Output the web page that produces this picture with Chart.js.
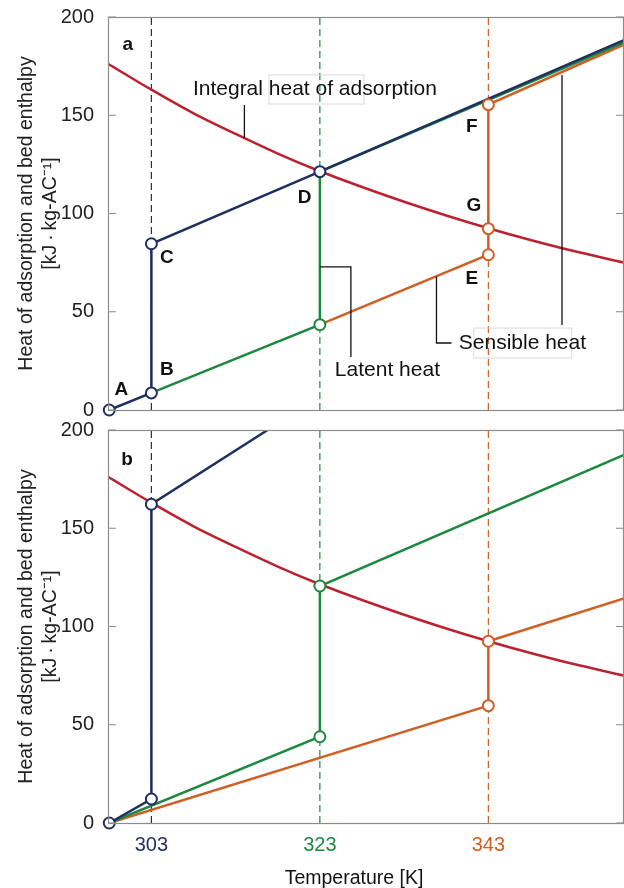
<!DOCTYPE html>
<html lang="en">
<head>
<meta charset="UTF-8">
<title>Heat of adsorption and bed enthalpy</title>
<style>
    body {
        margin: 0;
        background: #fff;
        font-family: Arial, "Liberation Sans", sans-serif;
        overflow: hidden;
    }
    .panel {
        position: absolute;
        left: 0;
        width: 624px;
    }
    /* canvases overlap a little so the chart areas land where the original ones are */
    #panelA { top: -7px; height: 441px; }
    #panelB { top: 406px; height: 482px; }
</style>
<script src="https://cdn.jsdelivr.net/npm/chart.js"></script>
</head>
<body>
<div class="panel" id="panelA"><canvas id="chartA"></canvas></div>
<div class="panel" id="panelB"><canvas id="chartB"></canvas></div>

<script>
// ---- data (temperature in K, heat in kJ/kg-AC) ----
const tempTicks = [303, 323, 343];
const yTicks = [0, 50, 100, 150, 200];
const tMin = 297.85, tMax = 359.1;

// integral heat of adsorption, same curve in both panels
const integralT = [297.85, 303, 308, 313, 318, 323, 328, 333, 338, 343, 348, 353, 359.1];
const integralQ = [176.2, 163, 151, 140.5, 130.5, 121.5, 113.5, 106, 99, 92.5, 86.5, 81, 75];

// panel a
const aNavyT = [298, 303, 303, 323, 359.1];
const aNavyQ = [0, 8.7, 84.6, 121.3, 188.2];
const aGreenT = [303, 323, 323, 359.1];
const aGreenQ = [8.7, 43.4, 121.3, 187.1];
const aOrangeT = [323, 343, 343, 359.1];
const aOrangeQ = [43.4, 79, 155.4, 186.0];
const aNavyPtT = [298, 303, 303, 323];
const aNavyPtQ = [0, 8.7, 84.6, 121.3];
const aGreenPtT = [323];
const aGreenPtQ = [43.4];
const aOrangePtT = [343, 343, 343];
const aOrangePtQ = [79, 92.3, 155.4];

// panel b
const bNavyT = [298, 303, 303, 316.8];
const bNavyQ = [0, 12.2, 162.2, 200];
const bGreenT = [298, 323, 323, 359.1];
const bGreenQ = [0, 43.9, 120.6, 187.3];
const bOrangeT = [298, 343, 343, 359.1];
const bOrangeQ = [0, 59.7, 92.5, 114.3];
const bNavyPtT = [298, 303, 303];
const bNavyPtQ = [0, 12.2, 162.2];
const bGreenPtT = [323, 323];
const bGreenPtQ = [43.9, 120.6];
const bOrangePtT = [343, 343];
const bOrangePtQ = [59.7, 92.5];

// ---- styling ----
const NAVY = '#1f2f5f';
const GREEN = '#1e8841';
const ORANGE = '#cf5f24';
const RED = '#bb2230';
const FRAME = '#8c8c8c';
const tickColors = [NAVY, GREEN, ORANGE];

// annotations of panel a, placed in data coordinates
const notesA = {
    texts: [
        { text: 'a', t: 300.2, q: 186, bold: true, align: 'center' },
        { text: 'Integral heat of adsorption', t: 307.93, q: 163.4, align: 'left' },
        { text: 'A', t: 299.45, q: 10.2, bold: true, align: 'center' },
        { text: 'B', t: 304.85, q: 20.4, bold: true, align: 'center' },
        { text: 'C', t: 304.85, q: 77.4, bold: true, align: 'center' },
        { text: 'D', t: 321.2, q: 107.9, bold: true, align: 'center' },
        { text: 'E', t: 341.03, q: 66.7, bold: true, align: 'center' },
        { text: 'F', t: 341.03, q: 144.0, bold: true, align: 'center' },
        { text: 'G', t: 341.27, q: 103.8, bold: true, align: 'center' },
        { text: 'Latent heat', t: 324.78, q: 20.4, align: 'left' },
        { text: 'Sensible heat', t: 339.49, q: 34.1, align: 'left' }
    ],
    leaders: [
        [[314.04, 155.2], [314.04, 138.5]],
        [[323, 72.8], [326.68, 72.8], [326.68, 27.0]],
        [[336.84, 68.0], [336.84, 34.1], [338.62, 34.1]],
        [[351.74, 170.5], [351.74, 43.3]]
    ],
    boxes: [
        [316.95, 170.5, 328.22, 155.7],
        [341.27, 41.7, 352.89, 26.5]
    ]
};
const notesB = {
    texts: [{ text: 'b', t: 300.1, q: 184.7, bold: true, align: 'center' }],
    leaders: [],
    boxes: []
};

function toPoints(ts, qs) {
    return ts.map((t, i) => ({ x: t, y: qs[i] }));
}

function lineSet(ts, qs, color, order) {
    return {
        data: toPoints(ts, qs),
        showLine: true,
        borderColor: color,
        borderWidth: 2.5,
        pointRadius: 0,
        pointHoverRadius: 0,
        fill: false,
        order: order
    };
}

function markerSet(ts, qs, color) {
    return {
        data: toPoints(ts, qs),
        showLine: false,
        pointRadius: 5.5,
        pointHoverRadius: 5.5,
        pointBorderWidth: 2,
        pointBorderColor: color,
        pointBackgroundColor: '#fff',
        clip: false,
        order: 0
    };
}

function guideSet(t, color) {
    return {
        data: [{ x: t, y: 0 }, { x: t, y: 200 }],
        showLine: true,
        borderColor: color,
        borderWidth: 1.2,
        borderDash: [7, 4],
        pointRadius: 0,
        pointHoverRadius: 0,
        order: 10
    };
}

function curveSet() {
    const ds = lineSet(integralT, integralQ, RED, 5);
    ds.cubicInterpolationMode = 'monotone';
    return ds;
}

// frame, inward ticks and text annotations
const decorPlugin = {
    id: 'decor',
    afterDraw(chart, args, opts) {
        const { ctx, chartArea: a, scales } = chart;
        const px = t => scales.x.getPixelForValue(t);
        const py = q => scales.y.getPixelForValue(q);
        ctx.save();

        ctx.strokeStyle = FRAME;
        ctx.lineWidth = 1.2;
        ctx.strokeRect(a.left + 0.5, a.top + 0.5, a.right - a.left - 1, a.bottom - a.top);
        yTicks.forEach(v => {
            const y = py(v);
            ctx.beginPath();
            ctx.moveTo(a.left, y); ctx.lineTo(a.left + 8, y);
            ctx.moveTo(a.right, y); ctx.lineTo(a.right - 8, y);
            ctx.stroke();
        });

        const notes = opts.notes;
        ctx.strokeStyle = '#dadada';
        ctx.lineWidth = 1;
        notes.boxes.forEach(b => {
            ctx.strokeRect(px(b[0]), py(b[1]), px(b[2]) - px(b[0]), py(b[3]) - py(b[1]));
        });

        ctx.strokeStyle = '#111';
        ctx.lineWidth = 1.3;
        notes.leaders.forEach(path => {
            ctx.beginPath();
            path.forEach((p, i) => {
                if (i === 0) ctx.moveTo(px(p[0]), py(p[1]));
                else ctx.lineTo(px(p[0]), py(p[1]));
            });
            ctx.stroke();
        });

        ctx.fillStyle = '#111';
        ctx.textBaseline = 'middle';
        notes.texts.forEach(n => {
            ctx.font = n.bold ? 'bold 19px Arial, "Liberation Sans", sans-serif'
                              : '21px Arial, "Liberation Sans", sans-serif';
            ctx.textAlign = n.align;
            ctx.fillText(n.text, px(n.t), py(n.q));
        });

        if (opts.xTitle) {
            ctx.font = '19.5px Arial, "Liberation Sans", sans-serif';
            ctx.textAlign = 'center';
            ctx.fillText(opts.xTitle, 354, a.bottom + 56);
        }
        ctx.restore();
    }
};

function makeChart(canvasId, datasets, notes, showX, pad) {
    const ctx = document.getElementById(canvasId).getContext('2d');
    return new Chart(ctx, {
        type: 'scatter',
        data: { datasets: datasets },
        options: {
            responsive: true,
            maintainAspectRatio: false,
            animation: false,
            layout: { padding: pad, autoPadding: false },
            plugins: {
                legend: { display: false },
                tooltip: { enabled: false },
                decor: { notes: notes, xTitle: showX ? 'Temperature [K]' : null }
            },
            scales: {
                x: {
                    type: 'linear',
                    min: tMin,
                    max: tMax,
                    display: showX,
                    grid: { display: false, drawTicks: false },
                    border: { display: false },
                    afterBuildTicks: s => { s.ticks = tempTicks.map(v => ({ value: v })); },
                    afterFit: s => { s.height = showX ? 65 : 0; },
                    ticks: {
                        padding: 12,
                        maxRotation: 0,
                        font: { size: 20, lineHeight: 1 },
                        color: c => tickColors[c.index]
                    }
                },
                y: {
                    min: 0,
                    max: 200,
                    grid: { display: false, drawTicks: false },
                    border: { display: false },
                    afterFit: s => { s.width = 108; },
                    ticks: {
                        stepSize: 50,
                        padding: 14,
                        font: { size: 20, lineHeight: 1 },
                        color: '#222'
                    },
                    title: {
                        display: true,
                        text: ['Heat of adsorption and bed enthalpy', '[kJ\u2009\u00b7\u2009kg-AC\u207b\u00b9]'],
                        font: { size: 19.5, lineHeight: 1.25 },
                        color: '#222',
                        padding: { top: 14, bottom: 0 }
                    }
                }
            }
        },
        plugins: [decorPlugin]
    });
}

Chart.defaults.font.family = 'Arial, "Liberation Sans", sans-serif';

makeChart('chartA', [
    markerSet(aNavyPtT, aNavyPtQ, NAVY),
    markerSet(aGreenPtT, aGreenPtQ, GREEN),
    markerSet(aOrangePtT, aOrangePtQ, ORANGE),
    lineSet(aNavyT, aNavyQ, NAVY, 2),
    lineSet(aGreenT, aGreenQ, GREEN, 3),
    lineSet(aOrangeT, aOrangeQ, ORANGE, 4),
    curveSet(),
    guideSet(tempTicks[0], NAVY),
    guideSet(tempTicks[1], GREEN),
    guideSet(tempTicks[2], ORANGE)
], notesA, false, { top: 24, bottom: 24, left: 0, right: 0 });

makeChart('chartB', [
    markerSet(bNavyPtT, bNavyPtQ, NAVY),
    markerSet(bGreenPtT, bGreenPtQ, GREEN),
    markerSet(bOrangePtT, bOrangePtQ, ORANGE),
    lineSet(bNavyT, bNavyQ, NAVY, 2),
    lineSet(bGreenT, bGreenQ, GREEN, 3),
    lineSet(bOrangeT, bOrangeQ, ORANGE, 4),
    curveSet(),
    guideSet(tempTicks[0], NAVY),
    guideSet(tempTicks[1], GREEN),
    guideSet(tempTicks[2], ORANGE)
], notesB, true, { top: 24, bottom: 0, left: 0, right: 0 });
</script>
</body>
</html>
